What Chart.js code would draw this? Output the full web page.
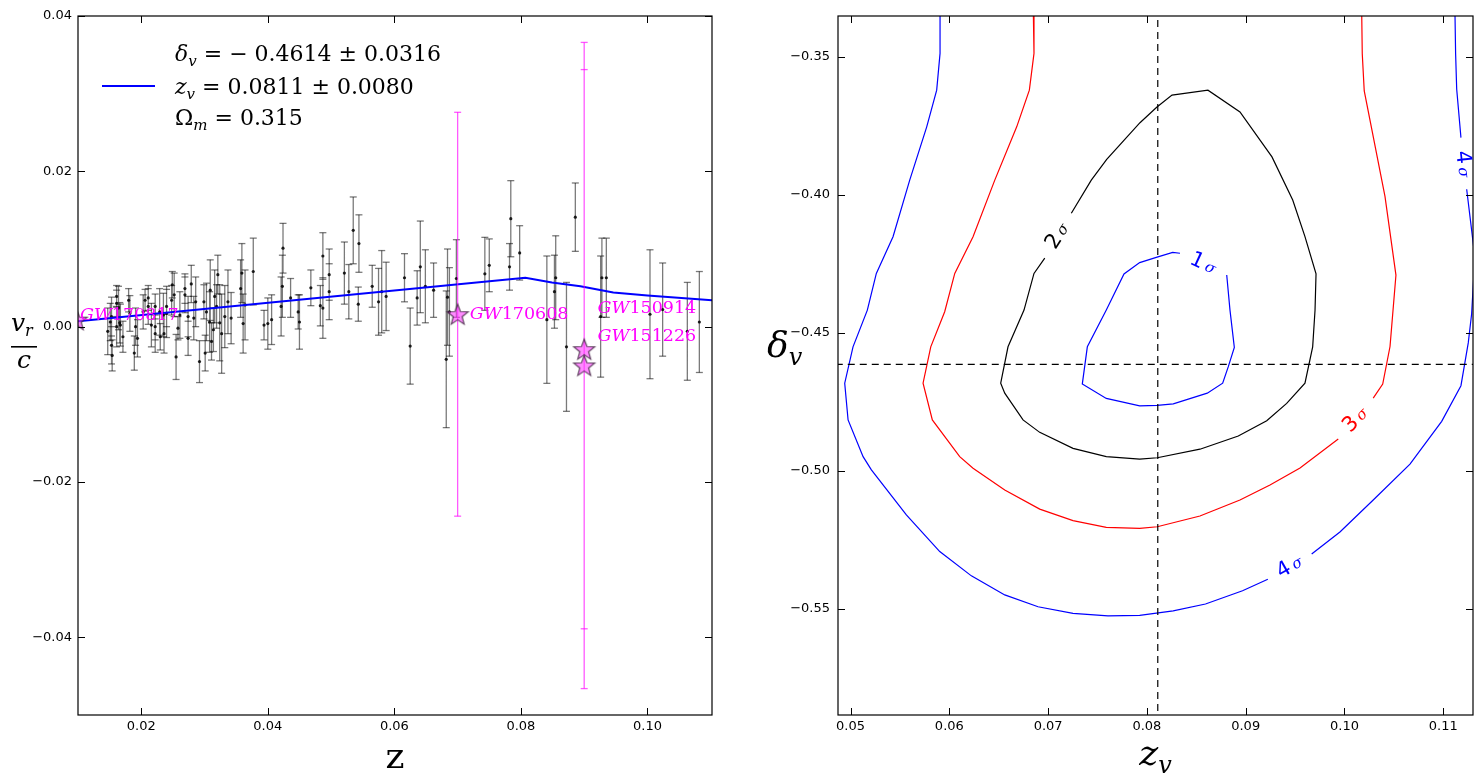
<!DOCTYPE html>
<html>
<head>
<meta charset="utf-8">
<script src="https://cdn.jsdelivr.net/npm/chart.js@4.4.1/dist/chart.umd.min.js"></script>
<style>
  body { margin: 0; background: #fff; }
  canvas { position: absolute; top: 0; }
  #left { left: 0; }
  #right { left: 740px; }
</style>
</head>
<body>
<canvas id="left" width="740" height="784"></canvas>
<canvas id="right" width="743" height="784"></canvas>
<script>
// ---- left panel: peculiar velocities vs redshift ----
const galZ = [0.0151, 0.0153, 0.0154, 0.0147, 0.0161, 0.0164, 0.0167, 0.0171, 0.0182, 0.0189, 0.0194, 0.0191, 0.0203, 0.0211, 0.0216,
  0.0222, 0.0229, 0.0236, 0.0240, 0.0249, 0.0252, 0.0255, 0.0258, 0.0261, 0.0269, 0.0274, 0.0279, 0.0283, 0.0286, 0.0292,
  0.0299, 0.0303, 0.0308, 0.0311, 0.0316, 0.0319, 0.0321, 0.0327, 0.0332, 0.0337, 0.0342, 0.0357, 0.0359, 0.0361, 0.0364,
  0.0377, 0.0394, 0.0400, 0.0406, 0.0421, 0.0423, 0.0424, 0.0436, 0.0448, 0.0450,
  0.0153, 0.0161, 0.0161, 0.0166, 0.0180, 0.0206, 0.0211, 0.0222, 0.0222, 0.0230, 0.0235, 0.0240, 0.0248, 0.0269, 0.0274,
  0.0301, 0.0309, 0.0314, 0.0324,
  0.0468, 0.0483, 0.0487, 0.0487, 0.0497, 0.0497, 0.0521, 0.0528, 0.0535, 0.0544, 0.0543, 0.0565, 0.0575, 0.0580, 0.0587,
  0.0616, 0.0625, 0.0636, 0.0641, 0.0649, 0.0662, 0.0682, 0.0684, 0.0687, 0.0698, 0.0743, 0.0750, 0.0782, 0.0784, 0.0798,
  0.0841, 0.0853, 0.0855, 0.0872, 0.0886, 0.0926, 0.0928, 0.0935, 0.1004, 0.1024, 0.1063, 0.1082];
const galV = [0.0006, -0.0024, -0.0037, -0.0006, 0.0030, 0.0024, 0.0002, -0.0013, 0.0017, -0.0034, -0.0015, 0.0000, 0.0019, 0.0037, 0.0002,
  -0.0009, 0.0019, -0.0009, 0.0017, 0.0054, 0.0041, -0.0039, -0.0002, 0.0015, 0.0041, -0.0015, 0.0055, 0.0011, 0.0032, -0.0045,
  0.0032, 0.0019, 0.0006, -0.0019, 0.0039, 0.0026, 0.0067, -0.0009, 0.0013, 0.0032, 0.0011, 0.0049, 0.0069, 0.0004, 0.0028,
  0.0071, 0.0002, 0.0004, 0.0009, 0.0026, 0.0052, 0.0101, 0.0037, 0.0019, 0.0006,
  0.0013, 0.0039, 0.0000, 0.0005, 0.0034, 0.0034, 0.0026, 0.0026, 0.0000, -0.0013, 0.0015, 0.0026, 0.0034, 0.0049, 0.0013,
  -0.0034, 0.0047, -0.0004, 0.0005,
  0.0050, 0.0027, 0.0091, 0.0024, 0.0067, 0.0045, 0.0069, 0.0045, 0.0124, 0.0107, 0.0029, 0.0052, 0.0032, 0.0045, 0.0039,
  0.0063, -0.0025, 0.0037, 0.0077, 0.0052, 0.0047, -0.0042, 0.0038, 0.0019, 0.0062, 0.0068, 0.0079, 0.0077, 0.0139, 0.0095,
  0.0009, 0.0045, 0.0063, -0.0026, 0.0141, 0.0013, 0.0063, 0.0063, 0.0016, 0.0022, -0.0006, 0.0006];
const galErr = [0.0024, 0.0024, 0.0020, 0.0030, 0.0017, 0.0028, 0.0027, 0.0020, 0.0023, 0.0022, 0.0024, 0.0024, 0.0022, 0.0016, 0.0028,
  0.0024, 0.0030, 0.0025, 0.0031, 0.0017, 0.0028, 0.0029, 0.0015, 0.0030, 0.0023, 0.0022, 0.0024, 0.0028, 0.0032, 0.0027,
  0.0022, 0.0037, 0.0039, 0.0024, 0.0034, 0.0028, 0.0025, 0.0051, 0.0040, 0.0041, 0.0033, 0.0037, 0.0038, 0.0038, 0.0045,
  0.0043, 0.0019, 0.0033, 0.0032, 0.0038, 0.0040, 0.0032, 0.0025, 0.0022, 0.0035,
  0.0025, 0.0014, 0.0026, 0.0026, 0.0015, 0.0014, 0.0023, 0.0016, 0.0017, 0.0017, 0.0028, 0.0026, 0.0019, 0.0019, 0.0026,
  0.0023, 0.0039, 0.0028, 0.0049,
  0.0023, 0.0026, 0.0030, 0.0039, 0.0033, 0.0036, 0.0040, 0.0035, 0.0043, 0.0037, 0.0022, 0.0027, 0.0043, 0.0053, 0.0044,
  0.0031, 0.0049, 0.0035, 0.0059, 0.0047, 0.0035, 0.0088, 0.0062, 0.0057, 0.0050, 0.0047, 0.0034, 0.0030, 0.0049, 0.0035,
  0.0082, 0.0047, 0.0054, 0.0083, 0.0044, 0.0078, 0.0051, 0.0051, 0.0083, 0.0060, 0.0063, 0.0065];

const gwNames = ['170817', '170608', '150914', '151226'];
const gwZ = [0.0098, 0.0700, 0.0900, 0.0900];
const gwV = [0.0009, 0.0016, -0.0029, -0.0050];
const gwErr = [0.0026, 0.0260, 0.0360, 0.0416];

const modelZ = [0.0100, 0.0807, 0.0849, 0.0894, 0.0946, 0.1000, 0.1102];
const modelV = [0.0007, 0.0063, 0.0057, 0.0052, 0.0044, 0.0040, 0.0034];

const leftXTicks = [0.02, 0.04, 0.06, 0.08, 0.10];
const leftYTicks = [0.04, 0.02, 0.00, -0.02, -0.04];

// ---- right panel: confidence contours in (z_v, delta_v) ----
const sig1Z = [0.08808, 0.08841, 0.08885, 0.08824, 0.08767, 0.08611, 0.08267, 0.08105, 0.07927, 0.07589, 0.07346, 0.07397, 0.07589, 0.07768, 0.07927, 0.08095, 0.08261, 0.08335];
const sig1D = [-0.4290, -0.4417, -0.4552, -0.4622, -0.4682, -0.4718, -0.4757, -0.4762, -0.4764, -0.4737, -0.4685, -0.4550, -0.4417, -0.4286, -0.4245, -0.4226, -0.4208, -0.4211];

const sig2Z = [0.07235, 0.07437, 0.07593, 0.07930, 0.08099, 0.08254, 0.08618, 0.08942, 0.09266, 0.09476, 0.09600, 0.09712, 0.09702, 0.09678, 0.09600, 0.09415,
  0.09213, 0.08925, 0.08537, 0.08105, 0.07927, 0.07589, 0.07252, 0.06915, 0.06746, 0.06561, 0.06520, 0.06594, 0.06756, 0.06857, 0.06966];
const sig2D = [-0.4066, -0.3946, -0.3871, -0.3738, -0.3682, -0.3638, -0.3620, -0.3699, -0.3862, -0.4018, -0.4151, -0.4286, -0.4417, -0.4550, -0.4682, -0.4755,
  -0.4818, -0.4873, -0.4921, -0.4952, -0.4957, -0.4948, -0.4918, -0.4860, -0.4815, -0.4718, -0.4682, -0.4550, -0.4417, -0.4284, -0.4229];

const sig3Z = [0.06850, 0.06857, 0.06810, 0.06682, 0.06460, 0.06240, 0.06055, 0.05953, 0.05812, 0.05734, 0.05828, 0.06105, 0.06240, 0.06561, 0.06915, 0.07252,
  0.07589, 0.07927, 0.08105, 0.08537, 0.08942, 0.09246, 0.09550, 0.09937, null, 0.10291, 0.10387, 0.10461, 0.10521, 0.10410, 0.10200, 0.10180, 0.10174];
const sig3D = [-0.333, -0.3487, -0.3620, -0.3753, -0.3946, -0.4151, -0.4284, -0.4423, -0.4550, -0.4682, -0.4815, -0.4948, -0.4990, -0.5069, -0.5138, -0.5180,
  -0.5204, -0.5208, -0.5202, -0.5163, -0.5105, -0.5051, -0.4989, -0.4884, null, -0.4736, -0.4685, -0.4549, -0.4290, -0.4005, -0.3623, -0.3488, -0.333];

const sig4Z = [0.05906, 0.05906, 0.05872, 0.05771, 0.05599, 0.05430, 0.05261, 0.05170, 0.05025, 0.04941, 0.04975, 0.05127, 0.05211, 0.05565, 0.05903, 0.06223,
  0.06561, 0.06898, 0.07252, 0.07606, 0.07927, 0.08266, 0.08593, 0.08968, 0.09224, null, 0.09668, 0.09954, 0.10291, 0.10663, 0.10984, 0.11179,
  0.11253, 0.11287, 0.11320, 0.11237, null, 0.11179, 0.11136, 0.11125, 0.11118];
const sig4D = [-0.333, -0.3487, -0.3620, -0.3753, -0.3946, -0.4151, -0.4284, -0.4417, -0.4550, -0.4682, -0.4815, -0.4948, -0.4996, -0.5159, -0.5292, -0.5380,
  -0.5449, -0.5492, -0.5516, -0.5525, -0.5523, -0.5507, -0.5482, -0.5434, -0.5392, null, -0.5301, -0.5221, -0.5105, -0.4975, -0.4820, -0.4691,
  -0.4536, -0.4431, -0.4225, -0.3979, null, -0.3792, -0.3617, -0.3488, -0.333];

const bestZv = 0.0811;
const bestDelta = -0.4614;

const rightXTicks = [0.05, 0.06, 0.07, 0.08, 0.09, 0.10, 0.11];
const rightYTicks = [-0.35, -0.40, -0.45, -0.50, -0.55];

const SERIF = '"DejaVu Serif", serif';
const SANS = '"DejaVu Sans", sans-serif';

function pts(xs, ys) {
  return xs.map((x, i) => ({ x: x, y: ys[i] }));
}

// vertical bars, one segment per point, broken by null gaps
function errorSegments(xs, ys, es) {
  const out = [];
  xs.forEach((x, i) => {
    out.push({ x: x, y: ys[i] - es[i] }, { x: x, y: ys[i] + es[i] }, { x: x, y: null });
  });
  return out;
}

function starImage(r) {
  const c = document.createElement('canvas');
  const s = Math.ceil(r * 2 + 4);
  c.width = s; c.height = s;
  const g = c.getContext('2d');
  g.beginPath();
  for (let k = 0; k < 10; k++) {
    const a = -Math.PI / 2 + k * Math.PI / 5;
    const rr = k % 2 ? r * 0.42 : r;
    const px = s / 2 + rr * Math.cos(a), py = s / 2 + 1 + rr * Math.sin(a);
    if (k === 0) g.moveTo(px, py); else g.lineTo(px, py);
  }
  g.closePath();
  g.fillStyle = 'rgba(255, 60, 255, 0.6)';
  g.fill();
  g.strokeStyle = 'rgba(70, 40, 70, 0.85)';
  g.lineWidth = 1.2;
  g.stroke();
  return c;
}

// text made of pieces: [text, font, dy]
function rich(ctx, x, y, parts, align) {
  let w = 0;
  parts.forEach(p => { ctx.font = p[1]; w += ctx.measureText(p[0]).width; });
  let cx = align === 'center' ? x - w / 2 : x;
  parts.forEach(p => {
    ctx.font = p[1];
    ctx.fillText(p[0], cx, y + (p[2] || 0));
    cx += ctx.measureText(p[0]).width;
  });
}

function frameAndTicks(chart) {
  const { ctx, chartArea: a, scales: { x, y } } = chart;
  const len = 7;
  ctx.save();
  ctx.strokeStyle = '#000';
  ctx.lineWidth = 1.2;
  ctx.strokeRect(a.left, a.top, a.right - a.left, a.bottom - a.top);
  ctx.lineWidth = 1;
  ctx.beginPath();
  x.ticks.forEach(t => {
    const p = Math.round(x.getPixelForValue(t.value)) + 0.5;
    ctx.moveTo(p, a.bottom); ctx.lineTo(p, a.bottom - len);
    ctx.moveTo(p, a.top); ctx.lineTo(p, a.top + len);
  });
  y.ticks.forEach(t => {
    const p = Math.round(y.getPixelForValue(t.value)) + 0.5;
    ctx.moveTo(a.left, p); ctx.lineTo(a.left + len, p);
    ctx.moveTo(a.right, p); ctx.lineTo(a.right - len, p);
  });
  ctx.stroke();
  ctx.restore();
}

const fmt = v => v.toFixed(2).replace('-', '\u2212');

function axisOpts(min, max, ticks, pad, size, isY) {
  return {
    type: 'linear', min: min, max: max,
    grid: { display: false, drawTicks: false },
    border: { display: false },
    afterBuildTicks: s => { s.ticks = ticks.map(v => ({ value: v })); },
    afterFit: s => { if (isY) s.width = size; else s.height = size; },
    ticks: { padding: pad, color: '#000', font: { family: 'DejaVu Sans', size: 13 }, callback: v => fmt(v), autoSkip: false, maxRotation: 0 }
  };
}

const leftDecor = {
  id: 'leftDecor',
  afterDraw(chart) {
    const { ctx, chartArea: a, scales: { x, y } } = chart;
    frameAndTicks(chart);
    ctx.save();
    // legend
    ctx.strokeStyle = 'blue';
    ctx.lineWidth = 2;
    ctx.beginPath();
    ctx.moveTo(a.left + 24, a.top + 70); ctx.lineTo(a.left + 77, a.top + 70);
    ctx.stroke();
    ctx.fillStyle = '#000';
    ctx.textBaseline = 'alphabetic';
    const tx = a.left + 97;
    rich(ctx, tx, a.top + 45, [['\u03b4', 'italic 22px ' + SERIF], ['v', 'italic 15px ' + SERIF, 5], [' = \u2212 0.4614 \u00b1 0.0316', '22px ' + SERIF]]);
    rich(ctx, tx, a.top + 78, [['z', 'italic 22px ' + SERIF], ['v', 'italic 15px ' + SERIF, 5], [' = 0.0811 \u00b1 0.0080', '22px ' + SERIF]]);
    rich(ctx, tx, a.top + 109, [['\u03a9', '22px ' + SERIF], ['m', 'italic 15px ' + SERIF, 5], [' = 0.315', '22px ' + SERIF]]);
    // GW labels
    const labelAt = [[0.0103, 0.0015], [0.0719, 0.0016], [0.0921, 0.0024], [0.0921, -0.0012]];
    ctx.fillStyle = '#ff00ff';
    ctx.textBaseline = 'middle';
    gwNames.forEach((n, i) => {
      rich(ctx, x.getPixelForValue(labelAt[i][0]), y.getPixelForValue(labelAt[i][1]),
        [['GW', 'italic 17.5px ' + SERIF], [n, '17.5px ' + SERIF]]);
    });
    // axis titles
    ctx.fillStyle = '#000';
    ctx.textBaseline = 'alphabetic';
    ctx.textAlign = 'left';
    rich(ctx, (a.left + a.right) / 2, 768, [['z', '36px ' + SERIF]], 'center');
    rich(ctx, 11, 331, [['v', 'italic 25px ' + SERIF], ['r', 'italic 16px ' + SERIF, 5]]);
    ctx.fillRect(11, 346, 26, 1.6);
    rich(ctx, 24, 368, [['c', 'italic 25px ' + SERIF]], 'center');
    ctx.restore();
  }
};

const rightDecor = {
  id: 'rightDecor',
  afterDraw(chart) {
    const { ctx, chartArea: a, scales: { x, y } } = chart;
    frameAndTicks(chart);
    ctx.save();
    ctx.textBaseline = 'middle';
    // contour labels: [z, delta, angle, colour, digit]
    const labels = [
      [0.08568, -0.4250, 25, 'blue', '1'],
      [0.07100, -0.4149, -57, '#000', '2'],
      [0.10116, -0.4815, -45, 'red', '3'],
      [0.09448, -0.5348, -30, 'blue', '4'],
      [0.11200, -0.3888, 84, 'blue', '4']
    ];
    labels.forEach(l => {
      ctx.save();
      ctx.translate(x.getPixelForValue(l[0]), y.getPixelForValue(l[1]));
      ctx.rotate(l[2] * Math.PI / 180);
      ctx.fillStyle = l[3];
      rich(ctx, 0, 0, [[l[4], '21px ' + SANS], [' ', '10px ' + SANS], ['\u03c3', 'italic 15px ' + SERIF, 1]], 'center');
      ctx.restore();
    });
    ctx.fillStyle = '#000';
    ctx.textBaseline = 'alphabetic';
    rich(ctx, (a.left + a.right) / 2, 765, [['z', 'italic 36px ' + SERIF], ['v', 'italic 24px ' + SERIF, 8]], 'center');
    rich(ctx, 27, 357, [['\u03b4', 'italic 36px ' + SERIF], ['v', 'italic 24px ' + SERIF, 8]]);
    ctx.restore();
  }
};

const star = starImage(11);

new Chart(document.getElementById('left'), {
  type: 'scatter',
  data: {
    datasets: [
      { data: pts(gwZ, gwV), pointStyle: star, pointRadius: 11, showLine: false },
      { data: errorSegments(gwZ, gwV, gwErr), showLine: true, spanGaps: false, borderColor: 'rgba(255,0,255,0.65)', borderWidth: 1.3,
        pointStyle: 'line', pointRadius: 3.5, pointBorderColor: 'rgba(255,0,255,0.65)', pointBorderWidth: 1.3 },
      { data: pts(modelZ, modelV), showLine: true, borderColor: 'blue', borderWidth: 2, pointRadius: 0 },
      { data: pts(galZ, galV), showLine: false, pointRadius: 1.6, pointBackgroundColor: 'rgba(0,0,0,0.85)', pointBorderWidth: 0 },
      { data: errorSegments(galZ, galV, galErr), showLine: true, spanGaps: false, borderColor: 'rgba(0,0,0,0.52)', borderWidth: 1.3,
        pointStyle: 'line', pointRadius: 3.5, pointBorderColor: 'rgba(0,0,0,0.52)', pointBorderWidth: 1.3 }
    ]
  },
  options: {
    responsive: false, animation: false,
    layout: { padding: { left: 0, right: 28, top: 16, bottom: 0 } },
    plugins: { legend: { display: false }, tooltip: { enabled: false } },
    scales: {
      x: axisOpts(0.01, 0.1102, leftXTicks, 4, 69, false),
      y: axisOpts(-0.05, 0.04, leftYTicks, 6, 78, true)
    }
  },
  plugins: [leftDecor]
});

const contour = (xs, ys, col) => ({ data: pts(xs, ys), showLine: true, spanGaps: false, borderColor: col, borderWidth: 1.2, pointRadius: 0 });

new Chart(document.getElementById('right'), {
  type: 'scatter',
  data: {
    datasets: [
      { data: [{ x: bestZv, y: -0.6 }, { x: bestZv, y: -0.3 }], showLine: true, borderColor: '#000', borderWidth: 1.2, borderDash: [7, 5], pointRadius: 0 },
      { data: [{ x: 0.04, y: bestDelta }, { x: 0.12, y: bestDelta }], showLine: true, borderColor: '#000', borderWidth: 1.2, borderDash: [7, 5], pointRadius: 0 },
      contour(sig1Z, sig1D, 'blue'),
      contour(sig2Z, sig2D, '#000'),
      contour(sig3Z, sig3D, 'red'),
      contour(sig4Z, sig4D, 'blue')
    ]
  },
  options: {
    responsive: false, animation: false,
    layout: { padding: { left: 0, right: 10, top: 16, bottom: 0 } },
    plugins: { legend: { display: false }, tooltip: { enabled: false } },
    scales: {
      x: axisOpts(0.04873, 0.11301, rightXTicks, 4, 69, false),
      y: axisOpts(-0.58841, -0.33514, rightYTicks, 8, 98, true)
    }
  },
  plugins: [rightDecor]
});
</script>
</body>
</html>
